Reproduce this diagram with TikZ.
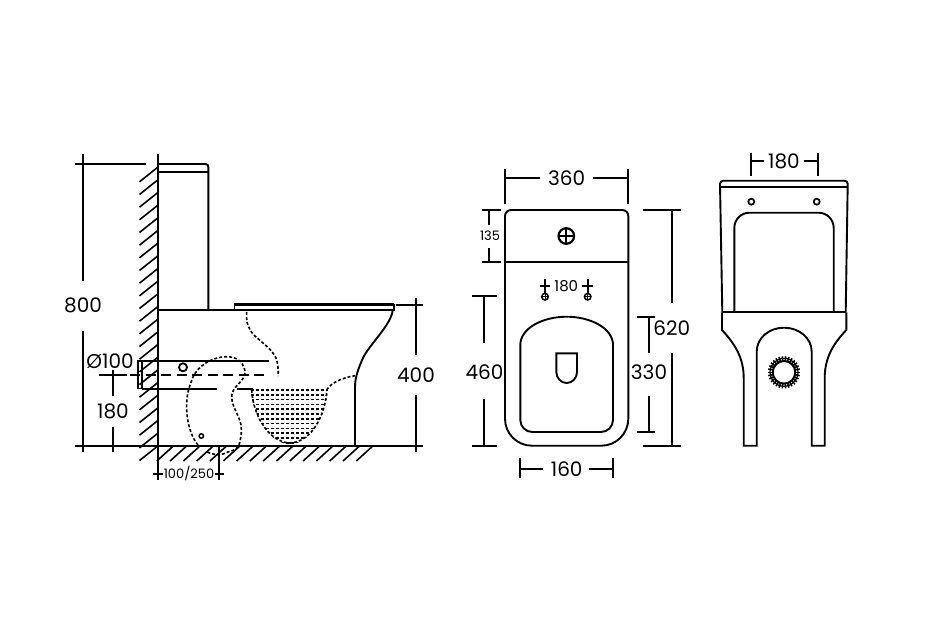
\documentclass[tikz,border=0pt]{standalone}
\usepackage{fontspec}
\setmainfont{Poppins}
\tikzset{
  ln/.style={line width=1.9pt,black},
  dimline/.style={line width=1.9pt,black},
  hatchline/.style={line width=1.6pt,black},
  dsh/.style={line width=1.6pt,black,dash pattern=on 3pt off 2pt},
  big/.style={font=\fontsize{20}{20}\selectfont,inner sep=0pt,text=black},
  mid/.style={font=\fontsize{15}{15}\selectfont,inner sep=0pt,text=black},
  small/.style={font=\fontsize{13}{13}\selectfont,inner sep=0pt,text=black},
}
\begin{document}
\begin{tikzpicture}[x=1pt,y=-1pt]
\useasboundingbox[fill=white] (0,0) rectangle (944,616);

% ---------- side view: hatching
\foreach \k in {0,...,22} {
  \pgfmathsetmacro\yy{167.3+12.67*\k}
  \draw[hatchline] (157.7,\yy) -- (139.5,\yy+14.5);
}
\foreach \k in {0,...,15} {
  \pgfmathsetmacro\xx{173.3+13.3*\k}
  \draw[hatchline] (\xx,446) -- (\xx-16.5,461);
}
% wall and floor
\draw[ln] (157.7,154) -- (157.7,480);
\draw[ln] (75,445.7) -- (423,445.7);
% tank
\draw[ln] (157.7,164) -- (205.5,164) .. controls (207.5,164) and (208.3,165) .. (208.3,167) -- (208.3,310.3);
\draw[ln] (157.7,172) -- (208.3,172);
% base + seat
\draw[ln] (157.7,310.3) -- (393,310.3);
\draw[line width=3.2pt] (234.3,304.8) -- (394.2,304.8);
\draw[ln] (234.5,304) -- (234.5,310.3);
\draw[ln] (393.8,304) -- (393.8,311);
% outer bowl profile
\draw[ln] (355,445.7) -- (355,387) .. controls (355,378) and (358,369) .. (363,358)
  .. controls (369,345) and (391,325) .. (392.7,310.5);
% pipe
\draw[ln] (142,361) -- (138.3,361) -- (138.3,388.5) -- (142,388.5);
\draw[ln] (142.3,361) -- (142.3,388.5);
\draw[ln] (142.3,361) -- (269.3,361);
\draw[ln] (142.3,388.7) -- (216.7,388.7);
\draw[ln] (236.7,388.7) -- (253.3,388.7);
\draw[line width=2.2pt,dash pattern=on 10pt off 5.5pt] (130,374.7) -- (264,374.7);
\draw[line width=1.8pt] (183,367.3) circle (4);
\draw[line width=1.5pt] (201.3,436) circle (2.2);
% dashed trap
\draw[dsh] (198,445) .. controls (190,436) and (186,418) .. (186.7,403)
  .. controls (187,392) and (190,385) .. (193,377)
  .. controls (198,366) and (212,357) .. (226,356.7)
  .. controls (236,356.5) and (243,361) .. (245,371)
  .. controls (246,382) and (231,386) .. (231.7,397)
  .. controls (232,407) and (239,415) .. (241,425)
  .. controls (242,432) and (241,438) .. (239,445)
  .. controls (236,450) and (232,451) .. (228,452)
  .. controls (220,456) and (214,455) .. (207,452);
\draw[dsh] (246.7,312) .. controls (246,322) and (248,329) .. (254,335)
  .. controls (261,342) and (272,349) .. (276,358)
  .. controls (278,364) and (278.3,369) .. (278.3,376);
\draw[dsh] (326.7,390) .. controls (330,384) and (340,378) .. (355,375.7);
% bowl water
\begin{scope}
\clip (250.5,388) -- (328,388) .. controls (327,412) and (313,443) .. (290,444.5)
  .. controls (267,443) and (252,412) .. (250.5,388) -- cycle;
\foreach \k in {0,...,11} {
  \pgfmathsetmacro\yy{390+4.8*\k}
  \draw[line width=1.6pt,dash pattern=on 3.2pt off 1.8pt] (251,\yy) -- (328,\yy);
}
\end{scope}
\draw[dsh] (251.7,390) .. controls (252.5,412) and (267,442) .. (290,443)
  .. controls (313,442) and (326,412) .. (326.7,390);
% side-view dimensions
\draw[dimline] (75,163.7) -- (145.7,163.7);
\draw[dimline] (83,154) -- (83,280.7);
\draw[dimline] (83,330.7) -- (83,451.7);
\draw[dimline] (99.3,374.7) -- (126.7,374.7);
\draw[dimline] (113,370) -- (113,395.7);
\draw[dimline] (113,426.7) -- (113,451.7);
\draw[dimline] (219.3,446) -- (219.3,480);
\draw[dimline] (152.7,474) -- (163,474);
\draw[dimline] (215,474) -- (224,474);
\draw[dimline] (396,304.7) -- (423,304.7);
\draw[dimline] (416,298) -- (416,355);
\draw[dimline] (416,395) -- (416,452);
\node[big] (l800) at (83,305) {800};
\node[big] (l100) at (110,361) {Ø100};
\node[big] (l180a) at (113,411) {180};
\node[big] (l400) at (416,375) {400};
\node[small] (l100250) at (189,473.5) {100/250};

% ---------- plan view
\draw[ln] (505,216) .. controls (505,212.7) and (507.7,210) .. (511,210) -- (622.3,210)
  .. controls (625.6,210) and (628.3,212.7) .. (628.3,216) -- (628.3,418.7)
  .. controls (628.3,433.6) and (616.2,445.7) .. (601.3,445.7) -- (532,445.7)
  .. controls (517,445.7) and (505,433.6) .. (505,418.7) -- cycle;
\draw[ln] (505,262) -- (628.3,262);
% seat
\draw[ln] (520.3,345) .. controls (520.3,328) and (543,316.7) .. (566.7,316.7)
  .. controls (590,316.7) and (613,328) .. (613,345)
  -- (613,420) .. controls (613,426.6) and (607.6,432) .. (601,432) -- (532.3,432)
  .. controls (525.7,432) and (520.3,426.6) .. (520.3,420) -- cycle;
% inner U
\draw[ln] (556.3,353.3) -- (577,353.3) -- (577,372)
  .. controls (577,378) and (572.4,383) .. (566.6,383)
  .. controls (561,383) and (556.3,378) .. (556.3,372) -- cycle;
% flush button
\draw[line width=2.2pt] (566.3,236) circle (7.8);
\draw[ln] (558.5,236) -- (574.1,236) (566.3,228.2) -- (566.3,243.8);
% screws
\foreach \sx in {545,587.7} {
  \draw[line width=2.1pt] (\sx,279.3) -- (\sx,293) (\sx-5.3,285.7) -- (\sx+5.3,285.7);
  \draw[line width=1.5pt] (\sx,296.7) circle (3.3);
  \draw[line width=1pt] (\sx-3.3,296.7) -- (\sx+3.3,296.7) (\sx,293.4) -- (\sx,300);
}
\node[mid] (l180b) at (566.3,285.7) {180};
% plan dimensions
\draw[dimline] (505,169.3) -- (505,204.3);
\draw[dimline] (628.3,169.3) -- (628.3,204.3);
\draw[dimline] (505,178.3) -- (540,178.3);
\draw[dimline] (593.3,178.3) -- (628.3,178.3);
\node[big] (l360) at (566.7,178.3) {360};
\draw[dimline] (481.7,210) -- (500.7,210);
\draw[dimline] (481.7,262) -- (500.7,262);
\draw[dimline] (489.3,210) -- (489.3,225);
\draw[dimline] (489.3,248.3) -- (489.3,262);
\node[small] (l135) at (490,236) {135};
\draw[dimline] (643.3,210.3) -- (680.7,210.3);
\draw[dimline] (671.7,210.3) -- (671.7,303.3);
\draw[dimline] (671.7,352.7) -- (671.7,445.7);
\draw[dimline] (643.3,445.7) -- (680.7,445.7);
\node[big] (l620) at (671.7,328.3) {620};
\draw[dimline] (636.7,316.7) -- (655,316.7);
\draw[dimline] (649,316.7) -- (649,352.7);
\draw[dimline] (649,396) -- (649,432);
\draw[dimline] (636.7,432) -- (655,432);
\node[big] (l330) at (649,371.7) {330};
\draw[dimline] (472.3,296) -- (496.7,296);
\draw[dimline] (484.3,296) -- (484.3,342.7);
\draw[dimline] (484.3,399.3) -- (484.3,445.7);
\draw[dimline] (472.3,445.7) -- (496.7,445.7);
\node[big] (l460) at (484.5,371.7) {460};
\draw[dimline] (520.3,458.3) -- (520.3,477.7);
\draw[dimline] (613,458.3) -- (613,477.7);
\draw[dimline] (520.3,469.3) -- (542.7,469.3);
\draw[dimline] (589.3,469.3) -- (613,469.3);
\node[big] (l160) at (566.7,469.3) {160};

% ---------- rear view
\draw[ln] (722.3,312.3) -- (720,184) .. controls (720,182) and (721.4,180.7) .. (723.3,180.7) -- (844.4,180.7)
  .. controls (846.3,180.7) and (847.7,182) .. (847.7,184) -- (845.7,312.3);
\draw[line width=2.2pt] (720,186.7) -- (847.7,186.7);
\draw[ln] (722,312.3) -- (846,312.3);
\draw[ln] (734.3,312.3) -- (734.3,228) .. controls (734.3,219.5) and (741,212.7) .. (749.6,212.7) -- (818.4,212.7)
  .. controls (827,212.7) and (833.7,219.5) .. (833.7,228) -- (833.7,312.3);
\draw[line width=1.7pt] (751.3,201.7) circle (3);
\draw[line width=1.7pt] (816.7,201.7) circle (3);
\draw[ln] (722,312.3) -- (722,330) .. controls (735,344) and (743.7,358) .. (743.7,378)
  -- (743.7,445.7) -- (756.7,445.7) -- (756.7,351.7)
  .. controls (756.7,338) and (769,327.7) .. (784,327.7)
  .. controls (799,327.7) and (811.7,338) .. (811.7,351.7)
  -- (811.7,445.7) -- (824.7,445.7) -- (824.7,378)
  .. controls (824.7,358) and (833,344) .. (846.3,330) -- (846.3,312.3);
\draw[line width=2pt] (784,372.3) circle (11.3);
\foreach \a in {0,12,...,348} {
  \draw[line width=1.5pt] (784,372.3) ++(\a:11.5) -- ++(\a:4.6);
}
\draw[line width=1.2pt] (784,372.3) circle (14);
\draw[dimline] (750.7,152.7) -- (750.7,176);
\draw[dimline] (817.7,152.7) -- (817.7,176);
\draw[dimline] (750.7,160.7) -- (764.3,160.7);
\draw[dimline] (804,160.7) -- (817.7,160.7);
\node[big] (l180c) at (784,161) {180};
\end{tikzpicture}
\end{document}
